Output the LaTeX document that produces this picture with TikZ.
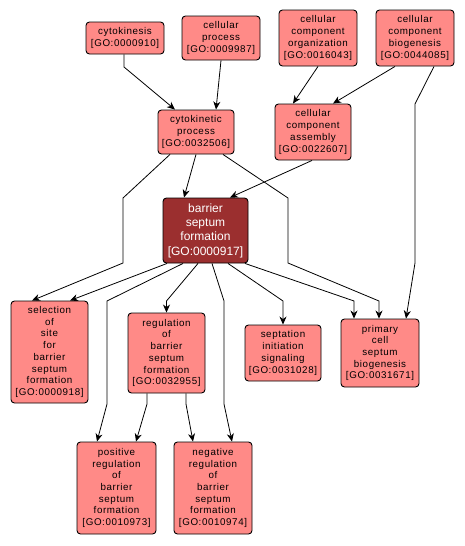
\documentclass[tikz,border=0pt]{standalone}
\usepackage{fontspec}
\setmainfont{Liberation Sans}
\newfontfamily\gofont[LetterSpace=6]{Liberation Sans}
\usetikzlibrary{arrows.meta,calc}
\definecolor{golight}{HTML}{FF8A87}
\definecolor{godark}{HTML}{9B2F2F}
\begin{document}
\begin{tikzpicture}[x=1pt,y=-1pt,
  gobox/.style={draw=black, line width=0.9pt, rounded corners=3.5pt, fill=golight, inner sep=0pt, align=center, font=\gofont\fontsize{9.8}{11.7}\selectfont},
  hub/.style={gobox, fill=godark, text=white, font=\fontsize{12}{14.4}\selectfont},
  arr/.style={-{Stealth[length=8pt,width=7pt,inset=2.5pt]}, line width=0.8pt}]
\useasboundingbox (0,0) rectangle (464,546);

\node[gobox, minimum width=78pt, minimum height=32pt] (ck) at (125,38) {cytokinesis\\{[GO:0000910]}};
\node[gobox, minimum width=78pt, minimum height=44pt] (cp) at (221,38) {cellular\\process\\{[GO:0009987]}};
\node[gobox, minimum width=78pt, minimum height=56pt] (cco) at (318,38) {cellular\\component\\organization\\{[GO:0016043]}};
\node[gobox, minimum width=78pt, minimum height=56pt] (ccb) at (415,38) {cellular\\component\\biogenesis\\{[GO:0044085]}};
\node[gobox, minimum width=76pt, minimum height=44pt] (ckp) at (196,132) {cytokinetic\\process\\{[GO:0032506]}};
\node[gobox, minimum width=76pt, minimum height=56pt] (cca) at (313,132) {cellular\\component\\assembly\\{[GO:0022607]}};
\node[hub, minimum width=85pt, minimum height=65pt] (bsf) at (205.5,230.5) {barrier\\septum\\formation\\{[GO:0000917]}};
\node[gobox, minimum width=77pt, minimum height=102pt] (sel) at (49.5,352) {selection\\of\\site\\for\\barrier\\septum\\formation\\{[GO:0000918]}};
\node[gobox, minimum width=77pt, minimum height=80pt] (reg) at (166.5,353) {regulation\\of\\barrier\\septum\\formation\\{[GO:0032955]}};
\node[gobox, minimum width=76pt, minimum height=56pt] (sis) at (283,353) {septation\\initiation\\signaling\\{[GO:0031028]}};
\node[gobox, minimum width=78pt, minimum height=68pt] (pcs) at (380,353) {primary\\cell\\septum\\biogenesis\\{[GO:0031671]}};
\node[gobox, minimum width=79pt, minimum height=92pt] (pos) at (116.5,488) {positive\\regulation\\of\\barrier\\septum\\formation\\{[GO:0010973]}};
\node[gobox, minimum width=78pt, minimum height=92pt] (neg) at (213,488) {negative\\regulation\\of\\barrier\\septum\\formation\\{[GO:0010974]}};

\draw[arr] ($(ck.south)+(-1,0)$) -- (124,67) -- ($(ckp.north)+(-21,0)$);
\draw[arr] (cp.south) -- ($(ckp.north)+(20,0)$);
\draw[arr] (cco.south) -- ($(cca.north)+(-20,0)$);
\draw[arr] ($(ccb.south)+(-20,0)$) -- ($(cca.north)+(20,0)$);
\draw[arr] ($(ccb.south)+(19,0)$) -- (415,104) -- (415,263) -- ($(pcs.north)+(26,0)$);
\draw[arr] (ckp.south) -- ($(bsf.north)+(-21.5,0)$);
\draw[arr] ($(cca.south)+(-1,0)$) -- ($(bsf.north)+(24.5,0)$);
\draw[arr] ($(ckp.south)+(-26,0)$) -- (123,198) -- (123,263) -- ($(sel.north)+(-17.5,0)$);
\draw[arr] ($(ckp.south)+(27,0)$) -- (288,198) -- (288,263) -- (379,301) -- ($(pcs.north)+(-1,0)$);
\draw[arr] ($(bsf.south)+(-38.5,0)$) -- ($(sel.north)+(20.5,0)$);
\draw[arr] ($(bsf.south)+(-22.5,0)$) -- (107,301) -- (107,404) -- ($(pos.north)+(-19.5,0)$);
\draw[arr] ($(bsf.south)+(-7.5,0)$) -- (166.5,301) -- (reg.north);
\draw[arr] ($(bsf.south)+(6.5,0)$) -- (224,301) -- (224,404) -- ($(neg.north)+(19,0)$);
\draw[arr] ($(bsf.south)+(22.5,0)$) -- (283,301) -- (sis.north);
\draw[arr] ($(bsf.south)+(39.5,0)$) -- (354,301) -- ($(pcs.north)+(-26,0)$);
\draw[arr] ($(reg.south)+(-19.5,0)$) -- (147,404) -- ($(pos.north)+(19.5,0)$);
\draw[arr] ($(reg.south)+(19.5,0)$) -- (186,404) -- ($(neg.north)+(-20,0)$);
\end{tikzpicture}
\end{document}
